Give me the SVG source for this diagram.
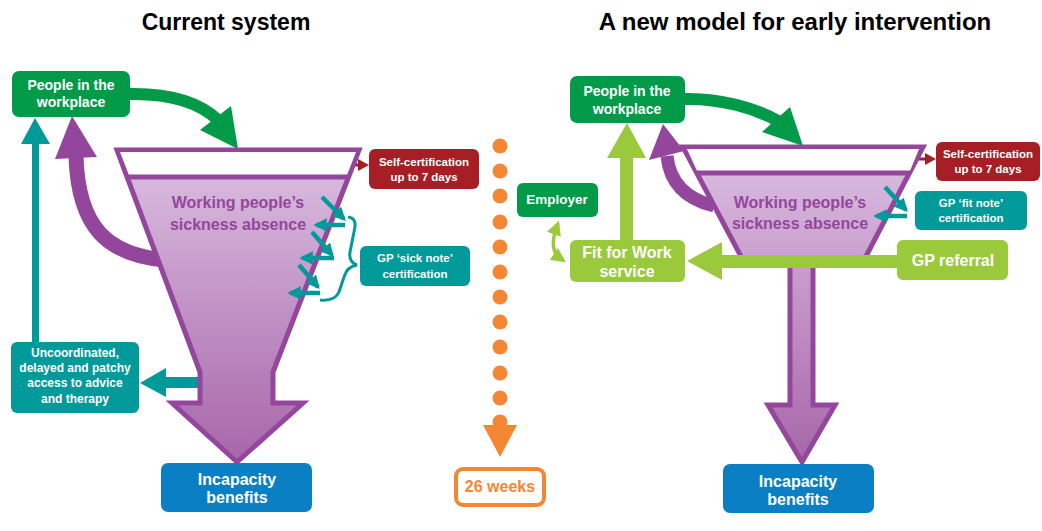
<svg xmlns="http://www.w3.org/2000/svg" width="1042" height="531" viewBox="0 0 1042 531">
<defs>
<style>
text{font-family:"Liberation Sans",Arial,sans-serif;font-weight:bold;text-anchor:middle}
.title{font-size:23px;fill:#000}
.bt{fill:#fff}
.pt{fill:#93469b;font-size:16px}
.dg{fill:#009a48}
.tl{fill:#009a9b}
.rd{fill:#a51f24}
.bl{fill:#0b7fc4}
.lg{fill:#9bc93c}
.funnel{stroke:#93469b;stroke-width:5;stroke-linejoin:miter}
.tarrow{stroke:#009a9b;stroke-width:4.5;fill:none}
</style>
<linearGradient id="gL" x1="0" y1="150" x2="0" y2="462" gradientUnits="userSpaceOnUse">
<stop offset="0" stop-color="#dcc0e2"/><stop offset="1" stop-color="#a766a9"/>
</linearGradient>
<linearGradient id="gR" x1="0" y1="147" x2="0" y2="462" gradientUnits="userSpaceOnUse">
<stop offset="0" stop-color="#dcc0e2"/><stop offset="1" stop-color="#a766a9"/>
</linearGradient>
<marker id="mT" viewBox="0 0 10 10" refX="8" refY="5" markerWidth="3" markerHeight="3" orient="auto" markerUnits="strokeWidth">
<path d="M0,0 L10,5 L0,10 z" fill="#009a9b"/>
</marker>
<marker id="mG" viewBox="0 0 10 10" refX="6" refY="5" markerWidth="4.2" markerHeight="4.2" orient="auto-start-reverse" markerUnits="strokeWidth">
<path d="M0,0 L10,5 L0,10 z" fill="#9bc93c"/>
</marker>
</defs>

<text class="title" x="226" y="30">Current system</text>
<text class="title" x="795" y="30" style="font-size:24px">A new model for early intervention</text>

<g id="connectors">
<path d="M128,94 C170,93 200,103 218,120" stroke="#009a48" stroke-width="12" fill="none"/>
<polygon points="200,130 231,106 238,149" fill="#009a48"/>
<path d="M165,260 C108,255 78,228 76,156" stroke="#93469b" stroke-width="15" fill="none"/>
<polygon points="55,159 72,116 97,157" fill="#93469b"/>
<rect x="32" y="142" width="7" height="202" fill="#009a9b"/>
<polygon points="21,144 35,118 50,144" fill="#009a9b"/>
<rect x="163" y="377" width="40" height="11" fill="#009a9b"/>
<polygon points="166,368 140,383 166,397" fill="#009a9b"/>
<line x1="338" y1="165" x2="359" y2="165" stroke="#a51f24" stroke-width="3"/>
<polygon points="358,159 369,165 358,171" fill="#a51f24"/>
<path d="M684,99 C720,98 755,108 778,121" stroke="#009a48" stroke-width="12" fill="none"/>
<polygon points="762,132 790,107 803,146" fill="#009a48"/>
<path d="M714,206 C690,200 670,186 667,156" stroke="#93469b" stroke-width="13" fill="none"/>
<polygon points="649,160 663,124 684,151" fill="#93469b"/>
<rect x="620" y="156" width="13" height="86" fill="#9bc93c"/>
<polygon points="607,158 627,123 646,158" fill="#9bc93c"/>
<path d="M557,226 Q548,250 561,259" stroke="#9bc93c" stroke-width="3.5" fill="none" marker-start="url(#mG)" marker-end="url(#mG)"/>
<line x1="903" y1="159" x2="926" y2="159" stroke="#a51f24" stroke-width="3"/>
<polygon points="925,153 936,159 925,165" fill="#a51f24"/>
</g>

<g id="funnel-left">
<polygon class="funnel" fill="url(#gL)" points="117,150 359,150 273,372 273,403 303,403 237,462 172,403 200,403 200,372"/>
<polygon points="120,152 356,152 347,175 129,175" fill="#fff"/>
<line x1="126" y1="177" x2="350" y2="177" stroke="#93469b" stroke-width="5"/>
<text class="pt" x="238" y="208">Working people’s</text>
<text class="pt" x="238" y="230">sickness absence</text>
</g>

<g id="funnel-right">
<polygon class="funnel" fill="url(#gR)" points="683,147 923,147 862,264 813,264 813,405 835,405 802,462 768,405 790,405 790,264 745,264"/>
<polygon points="687,149 919,149 910,171 697,171" fill="#fff"/>
<line x1="696" y1="173" x2="911" y2="173" stroke="#93469b" stroke-width="5"/>
<text class="pt" x="800" y="208">Working people’s</text>
<text class="pt" x="800" y="229">sickness absence</text>
</g>

<g id="gp-arrows-left">
<line class="tarrow" x1="322" y1="197" x2="344" y2="219" marker-end="url(#mT)"/>
<line class="tarrow" x1="345" y1="225" x2="316" y2="225" marker-end="url(#mT)"/>
<line class="tarrow" x1="312" y1="232" x2="332" y2="255" marker-end="url(#mT)"/>
<line class="tarrow" x1="334" y1="258" x2="302" y2="258" marker-end="url(#mT)"/>
<line class="tarrow" x1="299" y1="265" x2="318" y2="287" marker-end="url(#mT)"/>
<line class="tarrow" x1="320" y1="293" x2="290" y2="293" marker-end="url(#mT)"/>
<path d="M348,217 C356,218 356,224 354,232 L350,252 C349,259 351,263 357,265 C350,266 346,270 344,277 L339,292 C336,299 330,301 320,300" stroke="#009a9b" stroke-width="3" fill="none"/>
</g>

<g id="gp-arrows-right">
<line class="tarrow" x1="885" y1="187" x2="906" y2="210" marker-end="url(#mT)"/>
<line class="tarrow" x1="907" y1="216" x2="876" y2="216" marker-end="url(#mT)"/>
</g>

<g id="gp-referral-arrow">
<rect x="718" y="255" width="182" height="13" fill="#9bc93c"/>
<polygon points="722,242 687,261 722,280" fill="#9bc93c"/>
</g>

<g id="weeks-line">
<g fill="#f58634">
<circle cx="500" cy="146" r="7.5"/><circle cx="500" cy="171" r="7.5"/><circle cx="500" cy="196" r="7.5"/><circle cx="500" cy="222" r="7.5"/><circle cx="500" cy="247" r="7.5"/><circle cx="500" cy="272" r="7.5"/><circle cx="500" cy="297" r="7.5"/><circle cx="500" cy="322" r="7.5"/><circle cx="500" cy="347" r="7.5"/><circle cx="500" cy="373" r="7.5"/><circle cx="500" cy="398" r="7.5"/><circle cx="500" cy="422" r="7.5"/>
<polygon points="483,425 517,425 500,457"/>
</g>
</g>

<g id="people-left">
<rect class="dg" x="12" y="71" width="118" height="46" rx="7"/>
<text class="bt" x="71" y="90" font-size="14">People in the</text>
<text class="bt" x="71" y="107" font-size="14">workplace</text>
</g>
<g id="self-cert-left">
<rect class="rd" x="369" y="149" width="110" height="40" rx="6"/>
<text class="bt" x="424" y="166" font-size="11.5">Self-certification</text>
<text class="bt" x="424" y="181" font-size="11.5">up to 7 days</text>
</g>
<g id="gp-sick-note">
<rect class="tl" x="360" y="246" width="110" height="40" rx="6"/>
<text class="bt" x="415" y="262" font-size="11.5">GP ‘sick note’</text>
<text class="bt" x="415" y="278" font-size="11.5">certification</text>
</g>
<g id="uncoordinated">
<rect class="tl" x="11" y="342" width="128" height="71" rx="6"/>
<text class="bt" x="75" y="357" font-size="12">Uncoordinated,</text>
<text class="bt" x="75" y="372" font-size="12">delayed and patchy</text>
<text class="bt" x="75" y="387" font-size="12">access to advice</text>
<text class="bt" x="75" y="403" font-size="12">and therapy</text>
</g>
<g id="incapacity-left">
<rect class="bl" x="161" y="463" width="151" height="49" rx="7"/>
<text class="bt" x="237" y="485" font-size="16">Incapacity</text>
<text class="bt" x="237" y="503" font-size="16">benefits</text>
</g>
<g id="weeks">
<rect x="456" y="469" width="88" height="36" rx="7" fill="#fff" stroke="#f58634" stroke-width="4"/>
<text x="500" y="492" font-size="16" fill="#f58634">26 weeks</text>
</g>
<g id="people-right">
<rect class="dg" x="570" y="76" width="115" height="47" rx="7"/>
<text class="bt" x="627" y="96" font-size="14">People in the</text>
<text class="bt" x="627" y="114" font-size="14">workplace</text>
</g>
<g id="employer">
<rect class="dg" x="517" y="183" width="81" height="34" rx="6"/>
<text class="bt" x="557" y="204" font-size="13.5">Employer</text>
</g>
<g id="fit-for-work">
<rect class="lg" x="570" y="240" width="115" height="42" rx="6"/>
<text class="bt" x="627" y="258" font-size="16">Fit for Work</text>
<text class="bt" x="627" y="277" font-size="16">service</text>
</g>
<g id="self-cert-right">
<rect class="rd" x="936" y="142" width="104" height="39" rx="6"/>
<text class="bt" x="988" y="158" font-size="11.5">Self-certification</text>
<text class="bt" x="988" y="173" font-size="11.5">up to 7 days</text>
</g>
<g id="gp-fit-note">
<rect class="tl" x="915" y="191" width="112" height="39" rx="6"/>
<text class="bt" x="971" y="207" font-size="11.5">GP ‘fit note’</text>
<text class="bt" x="971" y="222" font-size="11.5">certification</text>
</g>
<g id="gp-referral">
<rect class="lg" x="897" y="240" width="111" height="40" rx="6"/>
<text class="bt" x="953" y="266" font-size="16">GP referral</text>
</g>
<g id="incapacity-right">
<rect class="bl" x="723" y="464" width="151" height="49" rx="7"/>
<text class="bt" x="798" y="487" font-size="16">Incapacity</text>
<text class="bt" x="798" y="505" font-size="16">benefits</text>
</g>
</svg>
